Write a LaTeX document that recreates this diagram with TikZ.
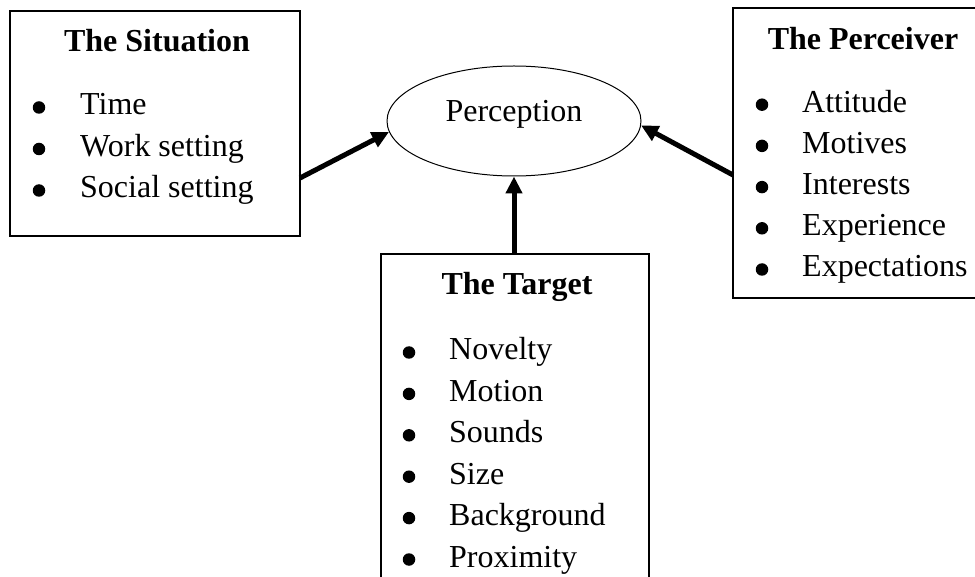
\documentclass[tikz,border=0pt]{standalone}
\usepackage{fontspec}
\setmainfont{Liberation Serif}
\usetikzlibrary{arrows.meta,shapes.geometric}

\begin{document}
\begin{tikzpicture}[x=1pt, y=-1pt,
    factor/.style={draw, line width=1.3pt, inner sep=0pt},
    heading/.style={anchor=base, inner sep=0pt, font=\fontsize{32}{36}\selectfont\bfseries},
    bul/.style={circle, fill, inner sep=0pt, minimum size=12.5pt, yshift=7.5pt},
    entry/.style={anchor=base west, inner sep=0pt, font=\fontsize{32}{36}\selectfont},
    push/.style={line width=5pt, -{Triangle[length=17pt, width=16pt]}}]
    \useasboundingbox (0,0) rectangle (975,577);
    \clip (0,0) rectangle (975,577);

    % the three boxes
    \node[factor, minimum width=290pt, minimum height=225pt] (situation) at (155,123.5) {};
    \node[factor, minimum width=252pt, minimum height=290pt] (perceiver) at (859,153) {};
    \node[factor, minimum width=268pt, minimum height=346pt] (target) at (515,427) {};

    \node[draw, ellipse, line width=1pt, minimum width=254pt, minimum height=110pt,
          inner sep=0pt, text height=20pt, text depth=18pt,
          font=\fontsize{32}{36}\selectfont] (perception) at (514,121) {Perception};

    \node[heading] (sit-head) at (157,52) {The Situation};
    \foreach \txt [count=\i] in {Time, Work setting, Social setting} {
        \node[bul] (sit-b\i) at (39,73.5+41.5*\i) {};
        \node[entry] (sit-\i) at (80,73.5+41.5*\i) {\txt};
    }

    \node[heading] (perc-head) at (863,50) {The Perceiver};
    \foreach \txt [count=\i] in {Attitude, Motives, Interests, Experience, Expectations} {
        \node[bul] (perc-b\i) at (762,71+41.2*\i) {};
        \node[entry] (perc-\i) at (802,71+41.2*\i) {\txt};
    }

    \node[heading] (tar-head) at (517,295) {The Target};
    \foreach \txt [count=\i] in {Novelty, Motion, Sounds, Size, Background, Proximity} {
        \node[bul] (tar-b\i) at (409,318.6+41.4*\i) {};
        \node[entry] (tar-\i) at (449,318.6+41.4*\i) {\txt};
    }

    % arrows into perception
    \coordinate (sit-out) at (300,178);
    \coordinate (perc-out) at (733,175);
    \draw[push] (sit-out) -- (perception.185);
    \draw[push] (perc-out) -- (perception.358);
    \draw[push] (perception.south |- target.north) -- (perception.south);
\end{tikzpicture}
\end{document}
